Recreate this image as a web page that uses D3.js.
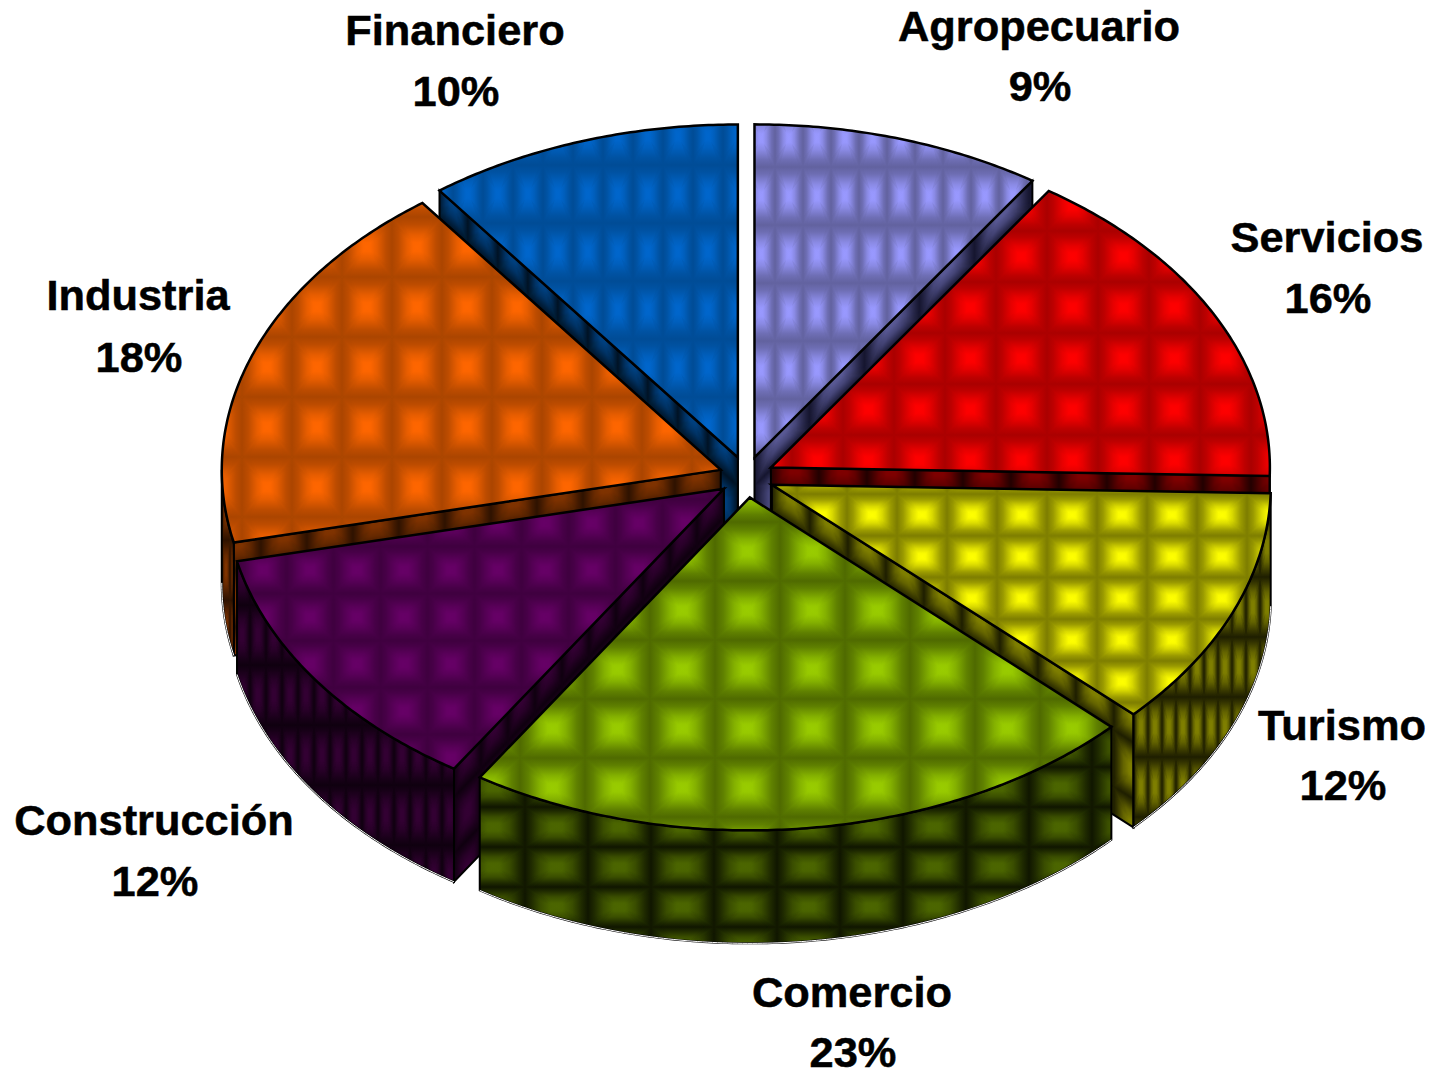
<!DOCTYPE html>
<html>
<head>
<meta charset="utf-8">
<script src="https://cdnjs.cloudflare.com/ajax/libs/d3/7.8.5/d3.min.js"></script>
<style>
  html, body { margin: 0; padding: 0; background: #fff; }
  text { font-family: "Liberation Sans", Arial, sans-serif; font-weight: bold; font-size: 43.4px; fill: #000; stroke: #000; stroke-width: 0.5px; text-anchor: middle; }
</style>
</head>
<body>
<script>
// values (slice sizes do not quite follow the printed labels)
const categories = ['Agropecuario', 'Servicios', 'Turismo', 'Comercio', 'Construcción', 'Industria', 'Financiero'];
const sliceShares = [9.4, 16, 11.7, 22, 12.4, 18.3, 10.2];
const pctLabels = ['9%', '16%', '12%', '23%', '12%', '18%', '10%'];

const topBright = ['#9999ff', '#ff0000', '#ffff00', '#99cc00', '#660066', '#ff6600', '#0066cc'];
const topDark = ['#62629f', '#aa0000', '#7d7d00', '#4f6a00', '#3f003f', '#ab4500', '#004c96'];
const wallBright = ['#5a5a96', '#800000', '#808000', '#4c6600', '#330033', '#803300', '#004080'];
const wallDark = ['#15152e', '#220000', '#1e1e00', '#101600', '#0f000f', '#2e1200', '#001224'];

// layout
const width = 1443;
const height = 1071;
const cx = 746.5;
const cy = 477;
const rx = 499;
const ry = 333;
const depth = 113;
const explodeX = 0.055;
const explodeY = 0.0616;

// back to front
const drawOrder = [6, 0, 1, 5, 2, 4, 3];

// tile size and origin of the texture on each face
const topCell = [[28, 58], [51, 51], [50, 41.7], [65, 59], [47, 47], [50, 60], [30, 58]];
const topOrigin = [[775, 167], [945, 231], [997, 494], [650, 640], [333.5, 593.5], [242, 457], [693, 223]];
const outerCell = [[14, 60], [8, 60], [14, 60], [63, 40], [16, 60], [8, 60], [14, 60]];
const outerOrigin = [[0, 0], [0, 0], [1148, 697], [525, 847], [250, 665], [222, 600], [0, 0]];
const radialWidth = [55, 48, 38, 40, 27, 46, 30];

const labelPos = [[1039, 41, 101], [1327, 252, 313], [1342, 740, 800], [852, 1007, 1067], [154, 835, 896], [138, 310, 372], [455, 45, 106]];

const topRamp = [[0, 0], [0.25, 0.22], [0.6, 0.72], [0.85, 0.97], [1, 1]];
const wallRamp = [[0, 0], [0.2, 0.25], [0.5, 0.7], [0.8, 0.97], [1, 1]];

const svg = d3.select('body')
  .append('svg')
  .attr('width', width)
  .attr('height', height)
  .style('display', 'block');

const defs = svg.append('defs');

const xScale = d3.scaleLinear().domain([-1, 1]).range([cx - rx, cx + rx]);
const yScale = d3.scaleLinear().domain([-1, 1]).range([cy - ry, cy + ry]);
const line = d3.line();

const slices = d3.pie().sort(null).value(d => d)(sliceShares);

function addStops(grad, stops) {
  stops.forEach(s => {
    grad.append('stop').attr('offset', s[0]).attr('stop-color', s[1]);
  });
}

// one pillow shaped tile: dark on its edges, bright in the middle, soft dark mitres
function addTile(id, bright, dark, cell, origin, rampShape, skew) {
  const mix = d3.interpolateRgb(dark, bright);
  const ramp = rampShape.map(r => [r[0], mix(r[1])]);
  const hGrad = defs.append('linearGradient').attr('id', id + '-h');
  addStops(hGrad, ramp.map(r => [r[0] / 2, r[1]]).concat(ramp.slice().reverse().map(r => [1 - r[0] / 2, r[1]])));
  const tGrad = defs.append('linearGradient').attr('id', id + '-t').attr('x1', 0).attr('y1', 0).attr('x2', 0).attr('y2', 1);
  addStops(tGrad, ramp);
  const bGrad = defs.append('linearGradient').attr('id', id + '-b').attr('x1', 0).attr('y1', 1).attr('x2', 0).attr('y2', 0);
  addStops(bGrad, ramp);

  const w = cell[0];
  const h = cell[1];
  defs.append('filter').attr('id', id + '-blur')
    .append('feGaussianBlur')
    .attr('stdDeviation', Math.min(w, h) * 0.025);

  const pattern = defs.append('pattern')
    .attr('id', id)
    .attr('patternUnits', 'userSpaceOnUse')
    .attr('x', origin[0])
    .attr('y', origin[1])
    .attr('width', w)
    .attr('height', h);
  if (skew) pattern.attr('patternTransform', skew);
  pattern.append('rect').attr('width', w).attr('height', h).attr('fill', `url(#${id}-h)`);
  pattern.append('path').attr('d', line([[0, 0], [w, 0], [w / 2, h / 2]]) + 'Z').attr('fill', `url(#${id}-t)`);
  pattern.append('path').attr('d', line([[0, h], [w, h], [w / 2, h / 2]]) + 'Z').attr('fill', `url(#${id}-b)`);

  // tapered wedges from the corners pull the bright middle into a star
  const wedges = pattern.append('g').attr('filter', `url(#${id}-blur)`).attr('fill', dark).attr('opacity', 0.2);
  [[0, 0], [w, 0], [0, h], [w, h]].forEach(c => {
    const sx = c[0] === 0 ? 1 : -1;
    const sy = c[1] === 0 ? 1 : -1;
    const kite = [
      c,
      [c[0] + sx * w * 0.14, c[1]],
      [c[0] + sx * w * 0.4, c[1] + sy * h * 0.4],
      [c[0], c[1] + sy * h * 0.14]
    ];
    wedges.append('path').attr('d', line(kite) + 'Z');
  });
}

function explodeOffset(s) {
  const mid = (s.startAngle + s.endAngle) / 2;
  return [explodeX * Math.sin(mid), -explodeY * Math.cos(mid)];
}

function rimPoint(s, a, r) {
  const off = explodeOffset(s);
  return [xScale(r * Math.sin(a) + off[0]), yScale(-r * Math.cos(a) + off[1])];
}

function sampleAngles(a0, a1) {
  const n = Math.max(2, Math.ceil((a1 - a0) / 0.01));
  return d3.range(n + 1).map(i => a0 + (a1 - a0) * i / n);
}

function drawRadialWall(g, s, i, a, side) {
  const apex = rimPoint(s, 0, 0);
  const rim = rimPoint(s, a, 1);
  const id = `radial-${i}-${side}`;
  const slope = (rim[1] - apex[1]) / (rim[0] - apex[0]);
  const skew = `translate(${apex[0]},${apex[1]}) skewY(${Math.atan(slope) * 180 / Math.PI})`;
  addTile(id, wallBright[i], wallDark[i], [radialWidth[i], depth / 2], [0, -depth / 4], wallRamp, skew);
  g.append('path')
    .attr('d', line([apex, rim, [rim[0], rim[1] + depth], [apex[0], apex[1] + depth]]) + 'Z')
    .attr('fill', `url(#${id})`)
    .attr('stroke', '#000')
    .attr('stroke-width', 2);
}

drawOrder.forEach(i => {
  const s = slices[i];
  const g = svg.append('g').attr('class', 'slice');

  // radial faces, only the ones turned to the viewer
  if (Math.sin(s.endAngle) > 0) drawRadialWall(g, s, i, s.endAngle, 'end');
  if (Math.sin(s.startAngle) < 0) drawRadialWall(g, s, i, s.startAngle, 'start');

  // outer curved face, front half only
  const a0 = Math.max(s.startAngle, Math.PI / 2);
  const a1 = Math.min(s.endAngle, Math.PI * 1.5);
  if (a1 > a0) {
    addTile(`outer-${i}`, wallBright[i], wallDark[i], outerCell[i], outerOrigin[i], wallRamp);
    const upper = sampleAngles(a0, a1).map(a => rimPoint(s, a, 1));
    const lower = upper.map(p => [p[0], p[1] + depth]);
    g.append('path')
      .attr('d', line(upper.concat(lower.slice().reverse())) + 'Z')
      .attr('fill', `url(#outer-${i})`)
      .attr('stroke', '#000')
      .attr('stroke-width', 2);
    g.append('path')
      .attr('d', line(lower))
      .attr('fill', 'none')
      .attr('stroke', '#fff')
      .attr('stroke-width', 1);
  }

  // top face
  addTile(`top-${i}`, topBright[i], topDark[i], topCell[i], topOrigin[i], topRamp);
  const rim = sampleAngles(s.startAngle, s.endAngle).map(a => rimPoint(s, a, 1));
  g.append('path')
    .attr('d', line([rimPoint(s, 0, 0)].concat(rim)) + 'Z')
    .attr('fill', `url(#top-${i})`)
    .attr('stroke', '#000')
    .attr('stroke-width', 2.5)
    .attr('stroke-linejoin', 'miter');
});

// labels
categories.forEach((name, i) => {
  const p = labelPos[i];
  svg.append('text').attr('x', p[0]).attr('y', p[1]).text(name);
  svg.append('text').attr('x', p[0] + 1).attr('y', p[2]).text(pctLabels[i]);
});
</script>
</body>
</html>
